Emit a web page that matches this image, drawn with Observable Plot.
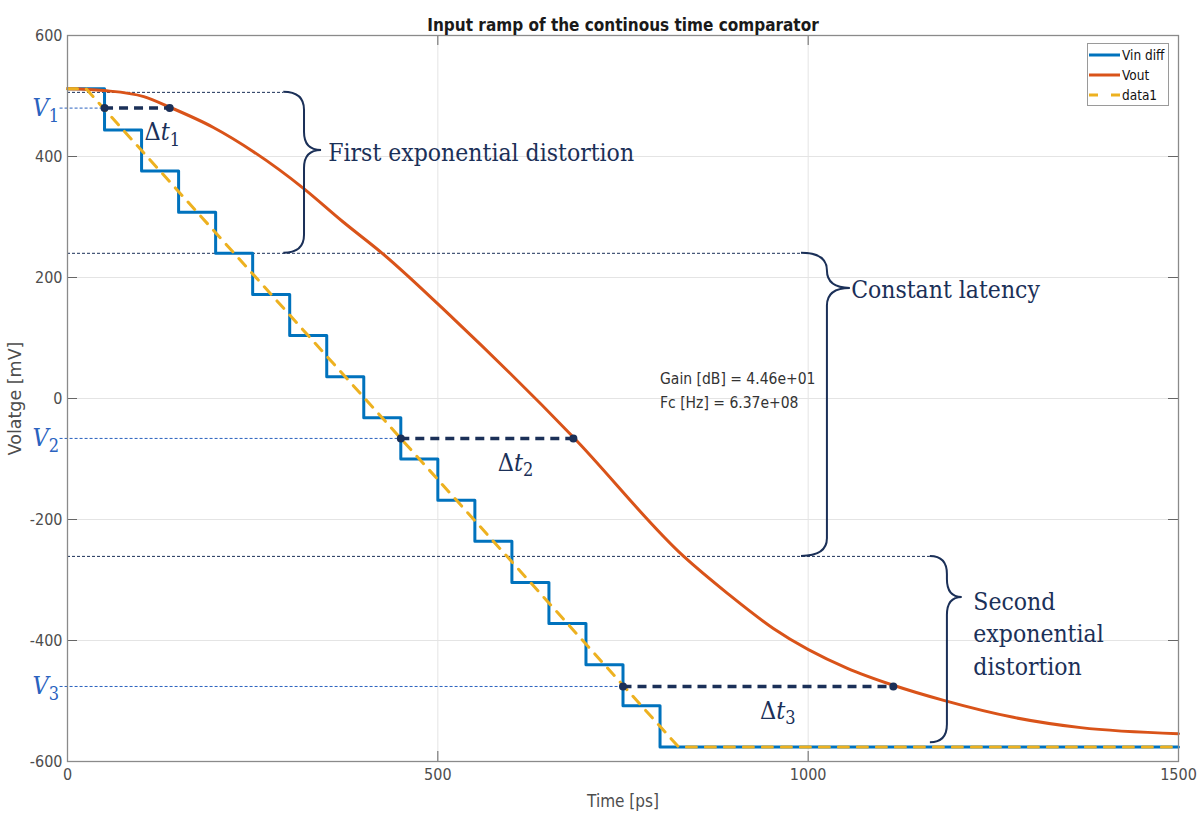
<!DOCTYPE html>
<html><head><meta charset="utf-8">
<script src="https://cdn.jsdelivr.net/npm/d3@7"></script>
<script src="https://cdn.jsdelivr.net/npm/@observablehq/plot@0.6"></script>
<style>
body{margin:0;background:#fff;}
#wrap{position:relative;width:1201px;height:815px;}
#legend{position:absolute;left:1087px;top:43px;width:82px;height:63px;border:1px solid #9a9a9a;background:#fff;
 font-family:"DejaVu Sans Condensed","DejaVu Sans",sans-serif;font-stretch:condensed;font-size:13.5px;color:#111;box-sizing:border-box;padding-top:1px;}
.row{display:flex;align-items:center;height:20px;}
.row svg{margin-left:1px;margin-right:2px;}
</style></head><body><div id="wrap"></div>
<script>
// ---- data ----
const xTicks = [0, 500, 1000, 1500];
const yTicks = [-600, -400, -200, 0, 200, 400, 600];

// Vin diff (staircase): level held from each time until next
const stepTimes  = [0, 50, 100, 150, 200, 250, 300, 350, 400, 450, 500, 550, 600, 650, 700, 750, 800, 1500];
const stepLevels = [512, 444, 376, 308, 240, 172, 104, 36, -32, -100, -168, -236, -304, -372, -440, -508, -576, -576];

// Vout
const voutTimes  = [0, 49, 103, 139, 197, 251, 319, 371, 425, 521, 683, 832, 891, 953, 1053, 1115, 1183, 1277, 1368, 1500];
const voutValues = [512, 509, 499, 481, 448, 408, 347, 293, 240, 132, -64, -261, -322, -380, -446, -474, -499, -527, -544, -554];

// data1 (ideal ramp)
const rampTimes  = [0, 25, 825, 1500];
const rampValues = [512, 512, -576, -576];

// annotations (data coordinates)
const guideLevels = [506, 240, -261];      // thin dashed guides
const guideEnds   = [292, 991, 1165];
const vLevels     = [480, -66, -476];       // V1, V2, V3
const vNames      = ["V_1", "V_2", "V_3"];
const dtStart     = [50, 450, 750];
const dtEnd       = [138, 683, 1115];
const dtNames     = ["Δt_1", "Δt_2", "Δt_3"];
const dtLabelT    = [104, 581, 935];
const dtLabelV    = [440, -106, -516];
const braceLeft   = [292, 991, 1165];
const braceSpine  = [320, 1026, 1188];
const braceTip    = [343, 1057, 1208];
const braceTop    = [506, 240, -261];
const braceMid    = [410, 182, -329];
const braceBottom = [240, -261, -569];
const braceText   = ["First exponential distortion", "Constant latency", "Second\nexponential\ndistortion"];
const braceTextT  = [352, 1058, 1223];
const braceTextV  = [410, 183, -386];
const infoLines   = ["Gain [dB] = 4.46e+01", "Fc [Hz] = 6.37e+08"];
const infoV       = [33, -8];
const infoT       = 800;
const legendNames = ["Vin diff", "Vout", "data1"];

// ---- tables ----
const stepData = stepTimes.map((t, i) => ({t, v: stepLevels[i]}));
const voutData = voutTimes.map((t, i) => ({t, v: voutValues[i]}));
const rampData = rampTimes.map((t, i) => ({t, v: rampValues[i]}));
const guides = guideLevels.map((v, i) => ({v, end: guideEnds[i]}));
const vGuides = vLevels.map((v, i) => ({v, t: dtStart[i], name: vNames[i]}));
const dts = dtStart.map((t0, i) => ({t0, t1: dtEnd[i], v: vLevels[i]}));
const dtDots = dts.flatMap(d => [{t: d.t0, v: d.v}, {t: d.t1, v: d.v}]);
const dtLabels = dtNames.map((name, i) => ({name, t: dtLabelT[i], v: dtLabelV[i]}));
const braceLabels = braceText.map((s, i) => ({s, t: braceTextT[i], v: braceTextV[i]}));
const infos = infoLines.map((s, i) => ({s, v: infoV[i], t: infoT}));

const BLUE = "#0072BD", ORANGE = "#D95319", YELLOW = "#EDB120", NAVY = "#1b3058", VBLUE = "#2a62bf";
const SANS = '"DejaVu Sans Condensed","Liberation Sans Narrow","DejaVu Sans",sans-serif';
const SERIF = '"DejaVu Serif Condensed","DejaVu Serif","Liberation Serif",serif';

const chart = Plot.plot({
  width: 1201, height: 815,
  marginLeft: 67, marginRight: 23, marginTop: 35, marginBottom: 54,
  x: {domain: [0, 1500]},
  y: {domain: [-600, 600]},
  style: {fontFamily: SANS, background: "white", overflow: "visible"},
  marks: [
    Plot.gridX(xTicks, {stroke: "#e4e4e4", strokeOpacity: 1}),
    Plot.gridY(yTicks, {stroke: "#e4e4e4", strokeOpacity: 1}),
    Plot.ruleY(guides, {y: "v", x1: 0, x2: "end", stroke: NAVY, strokeWidth: 1, strokeDasharray: "3,2"}),
    Plot.ruleY(vGuides, {y: "v", x1: -10, x2: "t", stroke: VBLUE, strokeWidth: 1, strokeDasharray: "3,2"}),
    Plot.line(stepData, {x: "t", y: "v", curve: "step-after", stroke: BLUE, strokeWidth: 3}),
    Plot.line(voutData, {x: "t", y: "v", curve: "monotone-x", stroke: ORANGE, strokeWidth: 3}),
    Plot.line(rampData, {x: "t", y: "v", stroke: YELLOW, strokeWidth: 3, strokeDasharray: "10,9"}),
    Plot.ruleY(dts, {y: "v", x1: "t0", x2: "t1", stroke: NAVY, strokeWidth: 3.5, strokeDasharray: "9,6"}),
    Plot.dot(dtDots, {x: "t", y: "v", r: 4, fill: NAVY}),
    Plot.text(dtLabels, {x: "t", y: "v", text: "name", textAnchor: "start", fontSize: 25, fontFamily: SERIF, fill: NAVY}),
    Plot.text(vGuides, {x: -10, y: "v", text: "name", textAnchor: "end", dx: -1, fontSize: 25, fontFamily: SERIF, fill: VBLUE}),
    Plot.text(braceLabels, {x: "t", y: "v", text: "s", textAnchor: "start", fontSize: 24.5, lineHeight: 1.33, fontFamily: SERIF, fill: NAVY}),
    Plot.text(infos, {x: "t", y: "v", text: "s", textAnchor: "start", fontSize: 15.5, fill: "#333"}),
    Plot.tickY(yTicks, {y: d => d, insetRight: 1101, stroke: "#666"}),
    Plot.tickY(yTicks, {y: d => d, insetLeft: 1101, stroke: "#666"}),
    Plot.tickX(xTicks, {x: d => d, insetTop: 716, stroke: "#666"}),
    Plot.tickX(xTicks, {x: d => d, insetBottom: 716, stroke: "#666"}),
    Plot.frame({stroke: "#8a8a8a", strokeWidth: 1.3}),
    Plot.axisY({ticks: yTicks, tickSize: 0, tickPadding: 5, tickFormat: d => String(d), fontSize: 16, color: "#4d4d4d", label: null}),
    Plot.axisX({ticks: xTicks, tickSize: 0, tickPadding: 7, tickFormat: d => String(d), fontSize: 16, color: "#4d4d4d", label: null}),
    Plot.text(["Input ramp of the continous time comparator"], {frameAnchor: "top", dy: -17, fontSize: 17, fontWeight: "bold", fill: "#1a1a1a"}),
    Plot.text(["Time [ps]"], {frameAnchor: "bottom", dy: 40, lineAnchor: "middle", textAnchor: "middle", fontSize: 17, fill: "#4d4d4d"}),
    Plot.text(["Volatge [mV]"], {frameAnchor: "left", dx: -52, textAnchor: "middle", lineAnchor: "middle", rotate: -90, fontSize: 17.5, fontFamily: '"DejaVu Sans",sans-serif', fill: "#4d4d4d"})
  ]
});

// rich text: italic letters + subscripts for "X_n" labels
d3.select(chart).selectAll("text").each(function() {
  if (this.querySelector("tspan")) return;
  const s = this.textContent;
  if (!s.includes("_")) return;
  const [base, sub] = s.split("_");
  const el = d3.select(this);
  el.text(null);
  for (const ch of base) {
    el.append("tspan").attr("font-style", /[A-Za-z]/.test(ch) ? "italic" : "normal").text(ch);
  }
  el.append("tspan").attr("font-size", "72%").attr("dy", "0.3em").text(sub);
});

// curly braces, placed through the plot's own scales
const sx = chart.scale("x"), sy = chart.scale("y");
const X = d3.scaleLinear(sx.domain, sx.range), Y = d3.scaleLinear(sy.domain, sy.range);
const gB = d3.select(chart).append("g").attr("fill", "none").attr("stroke", NAVY).attr("stroke-width", 2);
braceLeft.forEach((tl, i) => {
  const xL = X(tl), xV = X(braceSpine[i]), xT = X(braceTip[i]);
  const y1 = Y(braceTop[i]), ym = Y(braceMid[i]), y2 = Y(braceBottom[i]);
  const r = Math.min(18, (ym - y1) / 2, (y2 - ym) / 2);
  const p = `M${xL},${y1} Q${xV},${y1} ${xV},${y1 + r} L${xV},${ym - r} Q${xV},${ym} ${xT},${ym} Q${xV},${ym} ${xV},${ym + r} L${xV},${y2 - r} Q${xV},${y2} ${xL},${y2}`;
  gB.append("path").attr("d", p);
});

const wrap = document.getElementById("wrap");
wrap.appendChild(chart);

// legend
const legendStyles = [
  {stroke: BLUE, dash: null},
  {stroke: ORANGE, dash: null},
  {stroke: YELLOW, dash: "9,13"}
];
const leg = document.createElement("div");
leg.id = "legend";
legendNames.forEach((name, i) => {
  const row = document.createElement("div");
  row.className = "row";
  const st = legendStyles[i];
  row.innerHTML = `<svg width="31" height="6"><line x1="0" y1="3" x2="31" y2="3" stroke="${st.stroke}" stroke-width="3" ${st.dash ? `stroke-dasharray="${st.dash}"` : ""}/></svg><span>${name}</span>`;
  leg.appendChild(row);
});
wrap.appendChild(leg);
</script>
</body></html>
